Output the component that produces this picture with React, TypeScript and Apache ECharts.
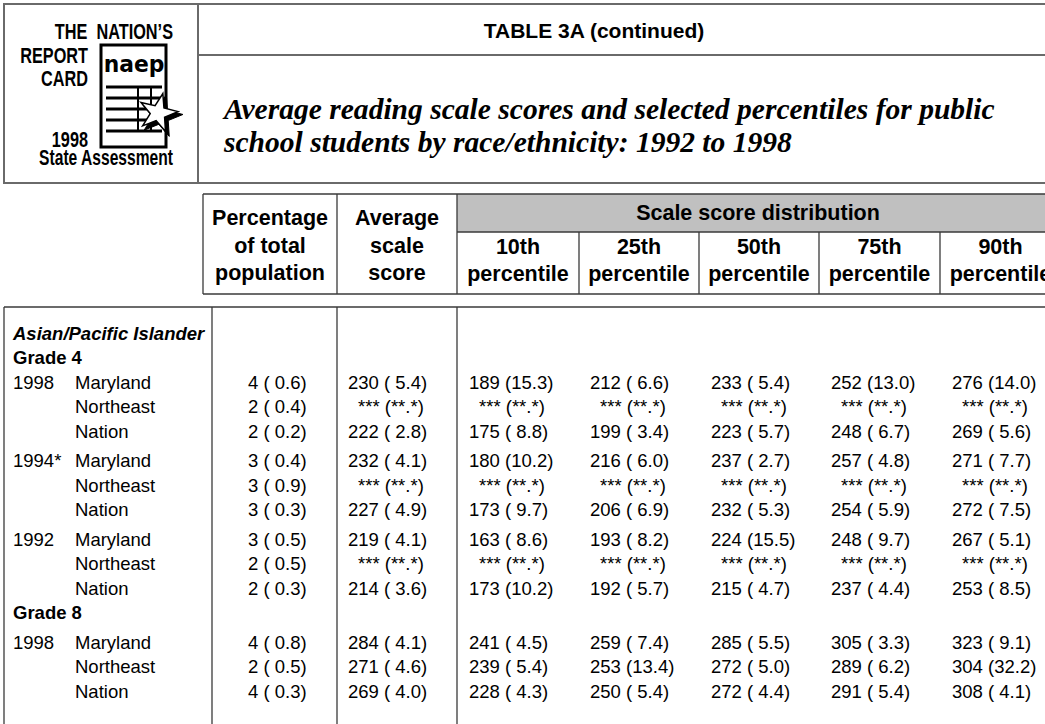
import React, { useEffect, useRef } from "react";
import * as echarts from "echarts";

// ---------------- DATA ----------------
const tableTitle = "TABLE 3A (continued)";
const subtitleLines = [
  "Average reading scale scores and selected percentiles for public",
  "school students by race/ethnicity: 1992 to 1998",
];
const groupLabel = "Asian/Pacific Islander";
const gradeLabels = ["Grade 4", "Grade 8"];
const rowGrade = [0, 0, 0, 0, 0, 0, 0, 0, 0, 1, 1, 1];
const rowYears = ["1998", "", "", "1994*", "", "", "1992", "", "", "1998", "", ""];
const rowPlaces = [
  "Maryland", "Northeast", "Nation",
  "Maryland", "Northeast", "Nation",
  "Maryland", "Northeast", "Nation",
  "Maryland", "Northeast", "Nation",
];
const pctValue = [4, 2, 2, 3, 3, 3, 3, 2, 2, 4, 2, 4];
const pctSE = [0.6, 0.4, 0.2, 0.4, 0.9, 0.3, 0.5, 0.5, 0.3, 0.8, 0.5, 0.3];
const avgValue = [230, null, 222, 232, null, 227, 219, null, 214, 284, 271, 269];
const avgSE = [5.4, null, 2.8, 4.1, null, 4.9, 4.1, null, 3.6, 4.1, 4.6, 4.0];
const p10Value = [189, null, 175, 180, null, 173, 163, null, 173, 241, 239, 228];
const p10SE = [15.3, null, 8.8, 10.2, null, 9.7, 8.6, null, 10.2, 4.5, 5.4, 4.3];
const p25Value = [212, null, 199, 216, null, 206, 193, null, 192, 259, 253, 250];
const p25SE = [6.6, null, 3.4, 6.0, null, 6.9, 8.2, null, 5.7, 7.4, 13.4, 5.4];
const p50Value = [233, null, 223, 237, null, 232, 224, null, 215, 285, 272, 272];
const p50SE = [5.4, null, 5.7, 2.7, null, 5.3, 15.5, null, 4.7, 5.5, 5.0, 4.4];
const p75Value = [252, null, 248, 257, null, 254, 248, null, 237, 305, 289, 291];
const p75SE = [13.0, null, 6.7, 4.8, null, 5.9, 9.7, null, 4.4, 3.3, 6.2, 5.4];
const p90Value = [276, null, 269, 271, null, 272, 267, null, 253, 323, 304, 308];
const p90SE = [14.0, null, 5.6, 7.7, null, 7.5, 5.1, null, 8.5, 9.1, 32.2, 4.1];
const percentileNames = ["10th", "25th", "50th", "75th", "90th"];
const headPct = ["Percentage", "of total", "population"];
const headAvg = ["Average", "scale", "score"];
const headDist = "Scale score distribution";
const missingText = "*** (**.*)";
const logoLines = ["THE  NATION\u2019S", "REPORT", "CARD", "1998", "State Assessment"];

// ---------------- LAYOUT ----------------
const SANS = "'Liberation Sans', Arial, Helvetica, sans-serif";
const SERIF = "'Liberation Serif', 'Times New Roman', serif";
const LINE = "#3a3a3a";
const BOX = "#6a6a6a";
const W = 1045;
const H = 724;
const FS = 18.5;
const HFS = 21.5;

const valueCols = [
  { v: avgValue, se: avgSE, x: 348 },
  { v: p10Value, se: p10SE, x: 469 },
  { v: p25Value, se: p25SE, x: 590 },
  { v: p50Value, se: p50SE, x: 711 },
  { v: p75Value, se: p75SE, x: 831 },
  { v: p90Value, se: p90SE, x: 952 },
];
const pctX = 248;
const colEdges = [457, 579, 699, 819, 940, 1061];

function fmt(v: number | null, se: number | null) {
  if (v == null || se == null) return missingText;
  const s = se.toFixed(1);
  return `${v} (${se < 10 ? " " : ""}${s})`;
}

function txt(x: number, y: number, text: string, extra: any = {}, el: any = {}) {
  return {
    type: "text",
    x,
    y,
    silent: true,
    ...el,
    style: {
      text,
      fill: "#000",
      fontFamily: SANS,
      fontSize: FS,
      textAlign: "left",
      textVerticalAlign: "middle",
      ...extra,
    },
  };
}

function ln(x1: number, y1: number, x2: number, y2: number, stroke = LINE, lineWidth = 1.3) {
  return { type: "line", silent: true, shape: { x1, y1, x2, y2 }, style: { stroke, lineWidth } };
}

function starPoints(cx: number, cy: number, ro: number, ri: number, rot: number) {
  const pts: number[][] = [];
  for (let i = 0; i < 10; i++) {
    const a = ((-90 + rot + i * 36) * Math.PI) / 180;
    const r = i % 2 === 0 ? ro : ri;
    pts.push([cx + r * Math.cos(a), cy + r * Math.sin(a)]);
  }
  return pts;
}

function buildElements() {
  const els: any[] = [];

  // ---- top header box ----
  els.push({ type: "rect", silent: true, shape: { x: 4, y: 4, width: 1100, height: 179 }, style: { fill: "none", stroke: BOX, lineWidth: 2 } });
  els.push(ln(198, 4, 198, 183, BOX, 2));
  els.push(ln(198, 55, W + 10, 55, BOX, 2));
  els.push(txt(594, 30, tableTitle, { fontSize: 21, fontWeight: "bold", textAlign: "center" }));
  subtitleLines.forEach((s, i) =>
    els.push(txt(224, 108 + i * 33, s, { fontFamily: SERIF, fontSize: 30, fontWeight: "bold", fontStyle: "italic" }, { scaleX: 0.985 }))
  );

  // ---- logo ----
  const cond = { scaleX: 0.74 };
  const lf = { fontSize: 22, fontWeight: "bold", textAlign: "right" };
  els.push(txt(173, 31, logoLines[0], lf, cond));
  els.push(txt(88, 55, logoLines[1], lf, cond));
  els.push(txt(88, 78, logoLines[2], lf, cond));
  els.push(txt(88, 139, logoLines[3], lf, cond));
  els.push(txt(173, 158, logoLines[4], lf, { scaleX: 0.71 }));
  els.push({ type: "rect", silent: true, shape: { x: 101, y: 45, width: 65, height: 102 }, style: { fill: "#fff", stroke: "#000", lineWidth: 3 } });
  els.push(txt(134, 64, "naep", { fontFamily: "'DejaVu Sans', sans-serif", fontSize: 23, fontWeight: 900, textAlign: "center" }, { scaleX: 0.95 }));
  [87, 98, 109, 120, 131].forEach((y) => els.push(ln(106, y, 162, y, "#000", 3)));
  els.push(ln(138, 87, 138, 131, "#000", 2));
  els.push(ln(151, 87, 151, 131, "#000", 2));
  els.push({ type: "polygon", silent: true, shape: { points: starPoints(161, 116, 22, 8.5, 14) }, style: { fill: "#000", stroke: "#000", lineWidth: 1 } });
  els.push({ type: "polygon", silent: true, shape: { points: starPoints(158, 113, 20, 7.8, 14) }, style: { fill: "#fff", stroke: "#000", lineWidth: 1.5 } });

  // ---- column header ----
  const hTop = 194, hBot = 294, gBot = 232;
  els.push({ type: "rect", silent: true, shape: { x: 457, y: hTop, width: 700, height: gBot - hTop }, style: { fill: "#c0c0c0" } });
  els.push(ln(203, hTop, W + 10, hTop));
  els.push(ln(203, hBot, W + 10, hBot));
  els.push(ln(203, hTop, 203, hBot));
  els.push(ln(337, hTop, 337, hBot));
  els.push(ln(457, hTop, 457, hBot));
  els.push(ln(457, gBot, W + 10, gBot));
  colEdges.slice(1).forEach((x) => els.push(ln(x, gBot, x, hBot)));
  const hb = { fontSize: HFS, fontWeight: "bold", textAlign: "center" };
  headPct.forEach((s, i) => els.push(txt(270, 218 + i * 27.5, s, hb)));
  headAvg.forEach((s, i) => els.push(txt(397, 218 + i * 27.5, s, hb)));
  els.push(txt(758, 213, headDist, hb));
  percentileNames.forEach((p, i) => {
    const cx = (colEdges[i] + colEdges[i + 1]) / 2;
    els.push(txt(cx, 247, p, hb));
    els.push(txt(cx, 274, "percentile", hb));
  });

  // ---- body frame ----
  const bTop = 307;
  els.push(ln(4, bTop, W + 10, bTop));
  [4, 212, 337, 457].forEach((x) => els.push(ln(x, bTop, x, H + 10)));

  // ---- body rows ----
  const y0 = 333, step = 24.5, gap = 5;
  let line = 0;
  let gaps = 0;
  const yOf = () => y0 + line * step + gaps * gap;
  els.push(txt(13, yOf(), groupLabel, { fontWeight: "bold", fontStyle: "italic" }));
  line++;
  for (let r = 0; r < rowPlaces.length; r++) {
    if (r === 0 || rowGrade[r] !== rowGrade[r - 1]) {
      els.push(txt(13, yOf(), gradeLabels[rowGrade[r]], { fontWeight: "bold" }));
      line++;
    }
    if (r > 0 && rowYears[r]) gaps++;
    const y = yOf();
    if (rowYears[r]) els.push(txt(13, y, rowYears[r]));
    els.push(txt(75, y, rowPlaces[r]));
    els.push(txt(pctX, y, fmt(pctValue[r], pctSE[r])));
    valueCols.forEach((c) => {
      const s = fmt(c.v[r], c.se[r]);
      els.push(txt(s === missingText ? c.x + 10 : c.x, y, s));
    });
    line++;
  }
  return els;
}

export default function App() {
  const ref = useRef<HTMLDivElement>(null);
  useEffect(() => {
    if (!ref.current) return;
    const chart = echarts.init(ref.current, null, { renderer: "svg" });
    chart.setOption({
      animation: false,
      backgroundColor: "#ffffff",
      graphic: { elements: buildElements() },
    });
    return () => chart.dispose();
  }, []);
  return (
    <div
      ref={ref}
      style={{ position: "absolute", left: 0, top: 0, width: W, height: H, background: "#fff" }}
    />
  );
}
